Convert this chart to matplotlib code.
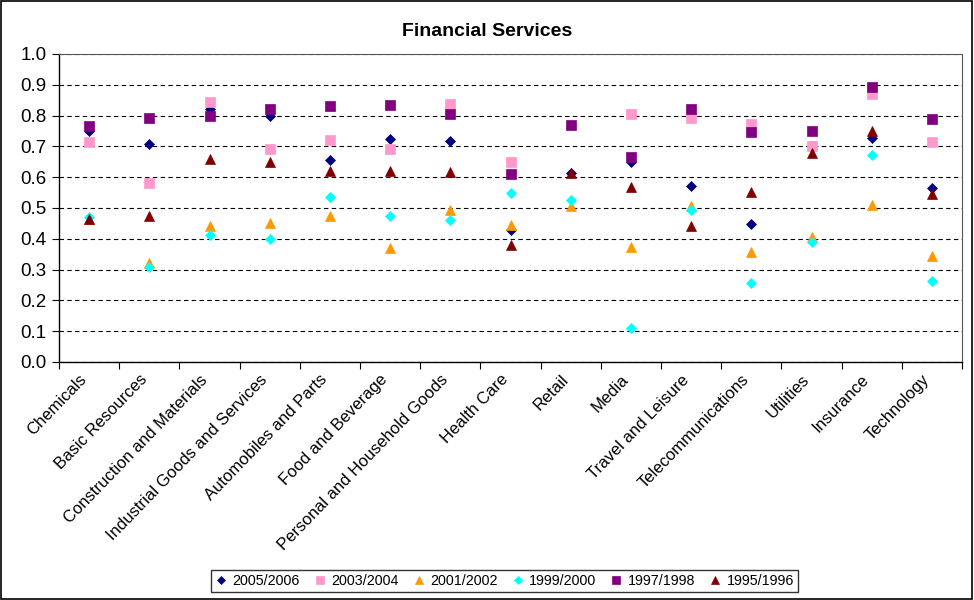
import numpy as np
import matplotlib.pyplot as plt
from matplotlib.patches import Rectangle
from matplotlib.transforms import ScaledTranslation

plt.rcParams['font.family'] = ['Liberation Sans', 'DejaVu Sans']

sectors = ["Chemicals", "Basic Resources", "Construction and Materials",
           "Industrial Goods and Services", "Automobiles and Parts",
           "Food and Beverage", "Personal and Household Goods", "Health Care",
           "Retail", "Media", "Travel and Leisure", "Telecommunications",
           "Utilities", "Insurance", "Technology"]

y2005 = [0.750, 0.707, 0.822, 0.800, 0.655, 0.725, 0.718, 0.430, 0.612, 0.648, 0.573, 0.447, 0.700, 0.728, 0.565]
y2003 = [0.715, 0.580, 0.843, 0.693, 0.720, 0.690, 0.837, 0.648, np.nan, 0.806, 0.793, 0.773, 0.700, 0.870, 0.715]
y2001 = [0.465, 0.320, 0.443, 0.450, 0.475, 0.370, 0.495, 0.445, 0.508, 0.374, 0.505, 0.358, 0.405, 0.510, 0.345]
y1999 = [0.470, 0.310, 0.413, 0.400, 0.535, 0.475, 0.460, 0.548, 0.526, 0.109, 0.495, 0.255, 0.388, 0.672, 0.263]
y1997 = [0.765, 0.793, 0.800, 0.822, 0.830, 0.833, 0.805, 0.610, 0.768, 0.665, 0.820, 0.747, 0.750, 0.893, 0.788]
y1995 = [0.465, 0.475, 0.660, 0.650, 0.620, 0.620, 0.617, 0.380, 0.614, 0.569, 0.442, 0.553, 0.680, 0.750, 0.545]

series = [
    ("2005/2006", y2005, "D", "#000080", 5),
    ("2003/2004", y2003, "s", "#FF99CC", 7),
    ("2001/2002", y2001, "^", "#FF9900", 7),
    ("1999/2000", y1999, "D", "#00FFFF", 5),
    ("1997/1998", y1997, "s", "#800080", 7),
    ("1995/1996", y1995, "^", "#800000", 7),
]

fig = plt.figure(figsize=(9.74, 6.0), dpi=100)
ax = fig.add_axes([0.0606, 0.3967, 0.9271, 0.5133])

x = np.arange(len(sectors)) + 0.5
for label, vals, mk, col, ms in series:
    ax.plot(x, vals, linestyle="none", marker=mk, color=col, markersize=ms,
            markeredgewidth=0.5, markeredgecolor=col, label=label)

ax.set_xlim(0, len(sectors))
ax.set_ylim(0, 1.0)
ax.set_yticks(np.arange(0, 1.01, 0.1))
ax.set_yticklabels([f"{v:.1f}" for v in np.arange(0, 1.01, 0.1)], fontsize=13.5)
ax.yaxis.grid(True, linestyle=(0, (4, 3)), color="black", linewidth=0.8)
ax.set_axisbelow(True)

# ticks sit on category boundaries, labels at category centres
ax.set_xticks(np.arange(len(sectors) + 1))
ax.set_xticklabels([])
ax.set_xticks(x, minor=True)
ax.set_xticklabels(sectors, minor=True, rotation=46, ha="right", va="center",
                   rotation_mode="anchor", fontsize=12)
ax.tick_params(axis="x", which="minor", length=0, pad=11)
ax.tick_params(axis="x", which="major", length=5, direction="out")
ax.tick_params(axis="y", length=5, direction="out", pad=4)
shift = ScaledTranslation(-5 / 100, 0, fig.dpi_scale_trans)
for lab in ax.get_xticklabels(minor=True):
    lab.set_transform(lab.get_transform() + shift)

for side in ["left", "bottom"]:
    ax.spines[side].set_color("black")
    ax.spines[side].set_linewidth(1.0)
ax.spines["top"].set_color("#555555")
ax.spines["right"].set_color("#555555")

fig.text(0.5, 0.948, "Financial Services", ha="center", va="center",
         fontsize=14, fontweight="bold")

fig.legend(loc="center", bbox_to_anchor=(0.518, 0.0317), ncol=6,
           frameon=True, fancybox=False, edgecolor="black", fontsize=10.3,
           handlelength=0.8, handletextpad=0.4, columnspacing=1.0,
           borderpad=0.3, markerscale=0.8)

fig.patches.append(Rectangle((0.001, 0.001), 0.997, 0.997, transform=fig.transFigure,
                             fill=False, edgecolor="black", linewidth=1.2))

fig.savefig("out.png", dpi=100)
